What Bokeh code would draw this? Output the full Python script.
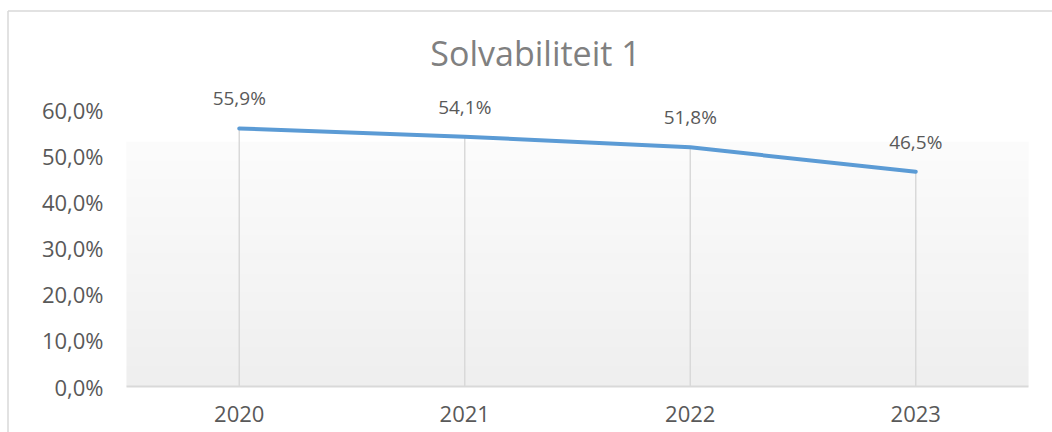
import numpy as np
from bokeh.plotting import figure
from bokeh.models import (ColumnDataSource, LabelSet, Label, Range1d, FixedTicker,
                          LinearAxis)
from bokeh.core.properties import value
from bokeh.embed import file_html
from bokeh.resources import INLINE

# ---- data ----
categories = ["2020", "2021", "2022", "2023"]
values = [55.9, 54.1, 51.8, 46.5]          # solvabiliteit in %
y_ticks = [0, 10, 20, 30, 40, 50, 60]
y_tick_labels = ["0,0%", "10,0%", "20,0%", "30,0%", "40,0%", "50,0%", "60,0%"]
chart_title = "Solvabiliteit 1"

FONT = "Open Sans"
TXT = "#595959"
GRID = "#d9d9d9"

idx = list(range(len(categories)))
labels = [f"{v:.1f}%".replace(".", ",") for v in values]
src = ColumnDataSource(dict(x=idx, y=values, y0=[0] * len(values), lbl=labels))

# ---- layout (pixels in the canvas) ----
W, H = 1052, 432
PX_L, PX_R, PX_T, PX_B = 126, 1028, 109, 386   # plot area
YMAX = y_ticks[-1]
n_cat = len(categories)
sx = (PX_R - PX_L) / n_cat
sy = (PX_B - PX_T) / YMAX
xs, xe = -0.5 - PX_L / sx, n_cat - 0.5 + (W - PX_R) / sx
ys, ye = -(H - PX_B) / sy, YMAX + PX_T / sy

p = figure(width=W, height=H, output_backend="svg", toolbar_location=None,
           x_range=Range1d(xs, xe), y_range=Range1d(ys, ye),
           x_axis_location=None, min_border=0)
p.outline_line_color = None
p.background_fill_color = "white"
p.border_fill_color = "white"
p.xgrid.visible = False
p.ygrid.visible = False

# chart border (top and left edges visible) as two separate segments
bx = xs + 7.5 / sx
by = ye - 10.5 / sy
p.segment(x0=[bx, bx], y0=[ys, by], x1=[bx, xe], y1=[by, by],
          line_color=GRID, line_width=1.5)

# plot-area gradient (white -> light grey)
n = 120
shade = np.linspace(239, 252, n)
img = np.zeros((n, 2), dtype=np.uint32)
view = img.view(dtype=np.uint8).reshape((n, 2, 4))
for i in range(n):
    view[i, :, 0:3] = int(shade[i])
    view[i, :, 3] = 255
p.image_rgba(image=[img], x=-0.5, y=0, dw=n_cat, dh=53)

# drop lines
p.segment(x0="x", y0="y0", x1="x", y1="y", source=src, line_color=GRID, line_width=1.5)

# x axis (category axis at y=0)
xa = LinearAxis(fixed_location=0)
xa.bounds = (-0.5, n_cat - 0.5)
xa.ticker = FixedTicker(ticks=idx)
xa.major_label_overrides = {i: c for i, c in zip(idx, categories)}
xa.axis_line_color = GRID
xa.axis_line_width = 2
xa.major_tick_line_color = None
xa.minor_tick_line_color = None
xa.major_tick_out = 0
xa.major_tick_in = 0
xa.major_label_standoff = 19
xa.major_label_text_font = FONT
xa.major_label_text_font_size = "22px"
xa.major_label_text_color = TXT
p.add_layout(xa, "below")

# series line
p.line("x", "y", source=src, line_color="#5b9bd5", line_width=4,
       line_cap="round", line_join="round")

# y axis
ya = p.yaxis[0]
ya.fixed_location = -0.5
ya.ticker = FixedTicker(ticks=y_ticks)
ya.major_label_overrides = {t: s for t, s in zip(y_ticks, y_tick_labels)}
ya.axis_line_color = None
ya.major_tick_line_color = None
ya.minor_tick_line_color = None
ya.major_tick_out = 0
ya.major_tick_in = 0
ya.major_label_standoff = 23
ya.major_label_text_font = FONT
ya.major_label_text_font_size = "22px"
ya.major_label_text_color = TXT

# data labels
p.add_layout(LabelSet(x="x", y="y", text="lbl", source=src, y_offset=30,
                      text_align="center", text_baseline="middle",
                      text_font=value(FONT), text_font_size=value("19px"),
                      text_color=TXT))
# chart title
p.add_layout(Label(x=-0.5 + (535 - PX_L) / sx, y=YMAX + (PX_T - 52) / sy,
                   text=chart_title, text_align="center", text_baseline="middle",
                   text_font=FONT, text_font_size="34px", text_color="#808080"))

open("out.html", "w").write(file_html(p, INLINE))
